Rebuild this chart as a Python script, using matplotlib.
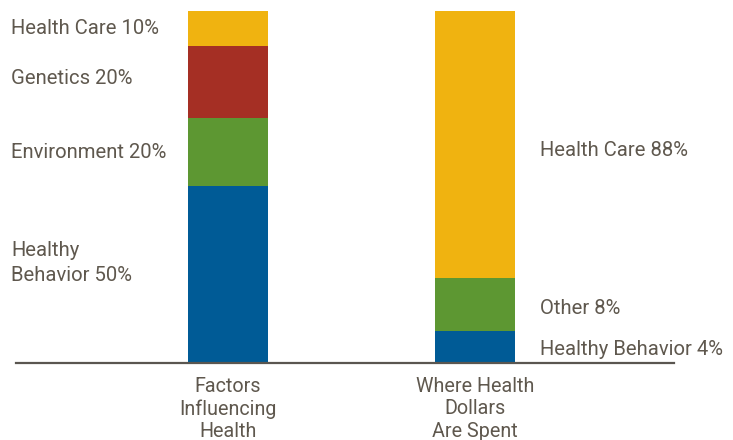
import matplotlib
matplotlib.use("Agg")
import matplotlib.pyplot as plt

categories = ["Factors\nInfluencing\nHealth", "Where Health\nDollars\nAre Spent"]

# segment heights as drawn (share of bar height, %), bottom to top
left_segments = ["Healthy Behavior", "Environment", "Genetics", "Health Care"]
left_values = [50.3, 19.3, 20.5, 9.9]
left_labels = ["Healthy\nBehavior 50%", "Environment 20%", "Genetics 20%", "Health Care 10%"]

right_segments = ["Healthy Behavior", "Other", "Health Care"]
right_values = [9.1, 15.1, 75.8]
right_labels = ["Healthy Behavior 4%", "Other 8%", "Health Care 88%"]

colors = {
    "Healthy Behavior": "#005B96",
    "Environment": "#5D9732",
    "Other": "#5D9732",
    "Genetics": "#A52F24",
    "Health Care": "#F0B310",
}
text_color = "#5f584e"
font = ["Roboto", "DejaVu Sans"]

fig = plt.figure(figsize=(7.33, 4.40), dpi=100)
ax = fig.add_axes([16 / 733, (440 - 363) / 440, 658 / 733, 352 / 440])
ax.set_xlim(-0.858, 1.806)
ax.set_ylim(0, 100)
ax.axis("off")

bw = 80 / 247
bottom = 0
for seg, v in zip(left_segments, left_values):
    ax.bar(0, v, bottom=bottom, width=bw, color=colors[seg], linewidth=0)
    bottom += v
bottom = 0
for seg, v in zip(right_segments, right_values):
    ax.bar(1, v, bottom=bottom, width=bw, color=colors[seg], linewidth=0)
    bottom += v

ax.axhline(0, color="#5a5650", lw=1.6, clip_on=False)

fs = 14.6
wt = "normal"
# left labels (figure pixel coords)
left_y = [29, 79, 153, 263]
for lab, y in zip(left_labels[::-1], left_y):
    fig.text(11 / 733, 1 - y / 440, lab, ha="left", va="center", fontsize=fs,
             color=text_color, family=font, weight=wt, linespacing=1.45)
right_y = [349, 309, 150]
for lab, y in zip(right_labels, right_y):
    fig.text(540 / 733, 1 - y / 440, lab, ha="left", va="center", fontsize=fs,
             color=text_color, family=font, weight=wt)

for i, cat in enumerate(categories):
    ax.text(i, -4.0, cat, ha="center", va="top", fontsize=fs - 0.4,
            color=text_color, family=font, weight=wt, linespacing=1.22)

fig.savefig("out.png", dpi=100)
